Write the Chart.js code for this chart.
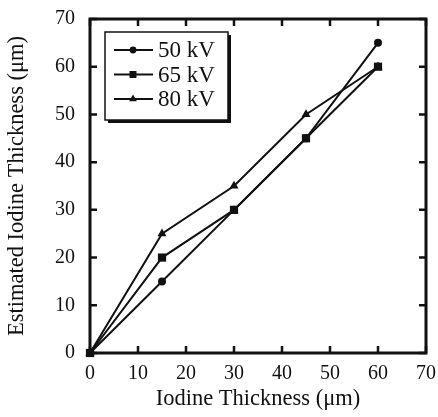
<!DOCTYPE html>
<html>
<head>
<meta charset="utf-8">
<script src="https://cdn.jsdelivr.net/npm/chart.js@4/dist/chart.umd.min.js"></script>
<style>
  html, body { margin: 0; padding: 0; background: #fff; }
  #wrap { width: 438px; height: 417px; }
</style>
</head>
<body>
<div id="wrap"><canvas id="chart" width="438" height="417"></canvas></div>
<script>
const xValues = [0, 15, 30, 45, 60];
const seriesLabels = ['50 kV', '65 kV', '80 kV'];
const kv50 = [0, 15, 30, 45, 65];
const kv65 = [0, 20, 30, 45, 60];
const kv80 = [0, 25, 35, 50, 60];
const axisTicks = [0, 10, 20, 30, 40, 50, 60, 70];

const FONT = "'Liberation Serif', 'DejaVu Serif', serif";
const pointStyles = ['circle', 'rect', 'triangle'];
const pointSizes = [4, 5.8, 5.2];

function toPoints(ys) {
  return xValues.map((x, i) => ({ x: x, y: ys[i] }));
}

const datasets = [kv50, kv65, kv80].map((ys, i) => ({
  label: seriesLabels[i],
  data: toPoints(ys),
  borderColor: '#111',
  backgroundColor: '#111',
  borderWidth: 2,
  pointStyle: pointStyles[i],
  pointRadius: pointSizes[i],
  pointBorderWidth: 0,
  tension: 0,
  clip: false
}));

// inward ticks on all four sides + thick frame
const framePlugin = {
  id: 'frame',
  afterDraw(chart) {
    const ctx = chart.ctx;
    const a = chart.chartArea;
    const xs = chart.scales.x, ys = chart.scales.y;
    const len = 7;
    ctx.save();
    ctx.strokeStyle = '#111';
    ctx.lineWidth = 2.5;
    axisTicks.forEach(v => {
      const px = xs.getPixelForValue(v);
      const py = ys.getPixelForValue(v);
      ctx.beginPath();
      ctx.moveTo(px, a.bottom); ctx.lineTo(px, a.bottom - len);
      ctx.moveTo(px, a.top); ctx.lineTo(px, a.top + len);
      ctx.moveTo(a.left, py); ctx.lineTo(a.left + len, py);
      ctx.moveTo(a.right, py); ctx.lineTo(a.right - len, py);
      ctx.stroke();
    });
    ctx.lineWidth = 3;
    ctx.strokeRect(a.left, a.top, a.right - a.left, a.bottom - a.top);
    ctx.restore();
  }
};

// boxed legend with drop shadow
const legendPlugin = {
  id: 'boxLegend',
  afterDraw(chart) {
    const ctx = chart.ctx;
    const bx = 105, by = 32, bw = 123, bh = 88;
    ctx.save();
    ctx.fillStyle = '#111';
    ctx.fillRect(bx + 3, by + 3, bw, bh);
    ctx.fillStyle = '#fff';
    ctx.fillRect(bx, by, bw, bh);
    ctx.strokeStyle = '#111';
    ctx.lineWidth = 1.5;
    ctx.strokeRect(bx, by, bw, bh);
    chart.data.datasets.forEach((ds, i) => {
      const y = by + 18 + i * 24.5;
      ctx.strokeStyle = '#111';
      ctx.fillStyle = '#111';
      ctx.lineWidth = 2;
      ctx.beginPath();
      ctx.moveTo(bx + 9, y);
      ctx.lineTo(bx + 48, y);
      ctx.stroke();
      Chart.helpers.drawPoint(ctx, {
        pointStyle: ds.pointStyle,
        radius: ds.pointRadius * 0.85,
        rotation: 0,
        borderWidth: 0
      }, bx + 28, y);
      ctx.fillStyle = '#111';
      ctx.font = '23px ' + FONT;
      ctx.textBaseline = 'middle';
      ctx.textAlign = 'left';
      ctx.fillText(ds.label, bx + 53, y + 1);
    });
    ctx.restore();
  }
};

new Chart(document.getElementById('chart'), {
  type: 'line',
  data: { datasets: datasets },
  options: {
    responsive: false,
    animation: false,
    layout: { padding: { left: 0, top: 18, right: 12, bottom: 0 } },
    plugins: { legend: { display: false }, tooltip: { enabled: false } },
    elements: { point: { backgroundColor: '#111', borderColor: '#111' } },
    scales: {
      x: {
        type: 'linear',
        min: 0, max: 70,
        afterBuildTicks: s => { s.ticks = axisTicks.map(v => ({ value: v })); },
        afterFit: s => { s.height = 64; },
        grid: { display: false },
        border: { display: false },
        ticks: { color: '#111', font: { family: FONT, size: 20 }, padding: 1 },
        title: {
          display: true, text: 'Iodine Thickness (\u03bcm)', color: '#111',
          font: { family: FONT, size: 22.5 }, padding: { top: 6 }
        }
      },
      y: {
        type: 'linear',
        min: 0, max: 70,
        afterBuildTicks: s => { s.ticks = axisTicks.map(v => ({ value: v })); },
        afterFit: s => { s.width = 90; },
        grid: { display: false },
        border: { display: false },
        ticks: { color: '#111', font: { family: FONT, size: 20 }, padding: 7 },
        title: {
          display: true, text: 'Estimated Iodine Thickness (\u03bcm)', color: '#111',
          font: { family: FONT, size: 22.5 }, padding: { bottom: 0 }
        }
      }
    }
  },
  plugins: [framePlugin, legendPlugin]
});
</script>
</body>
</html>
